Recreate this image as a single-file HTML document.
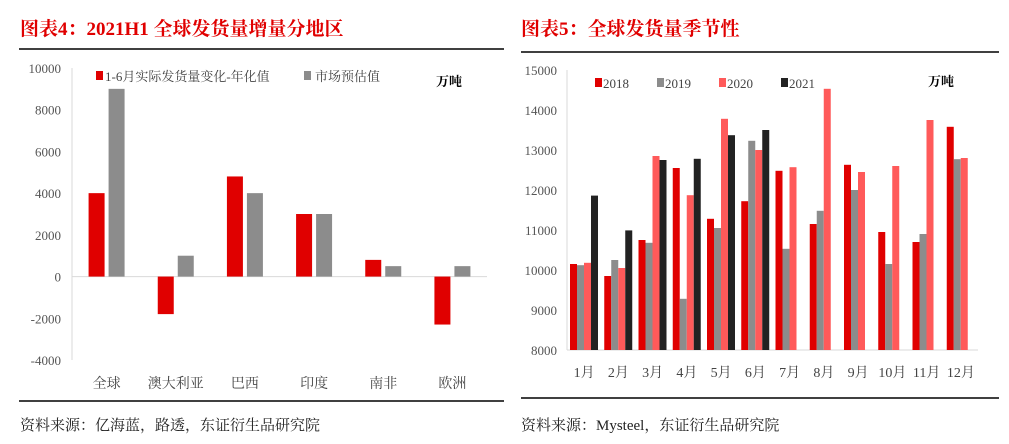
<!DOCTYPE html>
<html><head><meta charset="utf-8"><style>
body{margin:0;background:#fff;width:1009px;height:444px;overflow:hidden;font-family:"Liberation Serif","Noto Serif CJK SC",serif}
svg{position:absolute;left:0;top:0}
</style></head><body>
<svg width="1009" height="444">
<text x="20" y="35" font-size="19" font-weight="bold" fill="#e00000" font-family="Liberation Serif,Noto Serif CJK SC,serif">图表4：2021H1 全球发货量增量分地区</text>
<text x="521" y="35" font-size="19" font-weight="bold" fill="#e00000" font-family="Liberation Serif,Noto Serif CJK SC,serif">图表5：全球发货量季节性</text>
<line x1="19" y1="49" x2="504" y2="49" stroke="#000" stroke-width="1.5"/>
<line x1="521" y1="52" x2="999" y2="52" stroke="#000" stroke-width="1.5"/>
<line x1="19" y1="401" x2="504" y2="401" stroke="#000" stroke-width="1.5"/>
<line x1="521" y1="398" x2="999" y2="398" stroke="#000" stroke-width="1.5"/>
<text x="20" y="430" font-size="15" fill="#222">资料来源：亿海蓝，路透，东证衍生品研究院</text>
<text x="521" y="430" font-size="15" fill="#222">资料来源：Mysteel，东证衍生品研究院</text>
<g id="left"></g>
<g id="right"></g>
</svg>
<script>
const regions=["全球","澳大利亚","巴西","印度","南非","欧洲"];
const actualChange=[4000,-1800,4800,3000,800,-2300];
const marketEst=[9000,1000,4000,3000,500,500];
const leftTicks=[10000,8000,6000,4000,2000,0,-2000,-4000];
const months=["1月","2月","3月","4月","5月","6月","7月","8月","9月","10月","11月","12月"];
const s2018=[10150,9850,10750,12550,11280,11720,12480,11150,12630,10950,10700,13580];
const s2019=[10120,10250,10680,9280,11050,13230,10530,11480,12000,10150,10900,12770];
const s2020=[10180,10050,12850,11870,13780,13000,12570,14530,12450,12600,13750,12800];
const s2021=[11860,10990,12750,12780,13370,13500];
const rightTicks=[15000,14000,13000,12000,11000,10000,9000,8000];
const NS="http://www.w3.org/2000/svg";
function mk(p,t,a,txt){const e=document.createElementNS(NS,t);for(const k in a)e.setAttribute(k,a[k]);if(txt!==undefined)e.textContent=txt;p.appendChild(e);return e;}
// Left chart
(function(){
const g=document.getElementById('left');
const x0=72,x1=487,yTop=68,yBot=360,vMax=10000,vMin=-4000;
const y=v=>yTop+(vMax-v)/(vMax-vMin)*(yBot-yTop);
const cw=(x1-x0)/regions.length;
let e=mk(g,'line',{x1:x0,y1:yTop,x2:x0,y2:yBot,stroke:'#d9d9d9'});


e=mk(g,'line',{x1:x0,y1:y(0),x2:x1,y2:y(0),stroke:'#d9d9d9'});


leftTicks.forEach(t=>{e=mk(g,'text',{x:x0-11,y:y(t)+5,'font-size':13,fill:'#555','text-anchor':'end'},t);

});
regions.forEach((r,i)=>{const cx=x0+cw*(i+0.5);
[[actualChange[i],'#e00000',-20],[marketEst[i],'#8c8c8c',0]].forEach(([v,c,o],j)=>{
e=mk(g,'rect',{x:cx+o+2,y:Math.min(y(v),y(0)),width:16,height:Math.abs(y(v)-y(0)),fill:c});

});
e=mk(g,'text',{x:cx,y:388,'font-size':14,fill:'#444','text-anchor':'middle'},r);

});
e=mk(g,'rect',{x:96,y:71,width:7,height:9,fill:'#e00000'});


e=mk(g,'text',{x:105,y:81,'font-size':13,fill:'#444'},'1-6月实际发货量变化-年化值');


e=mk(g,'rect',{x:304,y:71,width:7,height:9,fill:'#8c8c8c'});


e=mk(g,'text',{x:315,y:81,'font-size':13,fill:'#444'},'市场预估值');


e=mk(g,'text',{x:436,y:86,'font-size':13,fill:'#000','font-weight':'bold'},'万吨');


})();
// Right chart
(function(){
const g=document.getElementById('right');
const x0=567,x1=978,yTop=70,yBot=350,vMax=15000,vMin=8000;
const y=v=>yTop+(vMax-v)/(vMax-vMin)*(yBot-yTop);
const cw=(x1-x0)/months.length;
let e=mk(g,'line',{x1:x0,y1:yTop,x2:x0,y2:yBot,stroke:'#d9d9d9'});


e=mk(g,'line',{x1:x0,y1:yBot,x2:x1,y2:yBot,stroke:'#d9d9d9'});


rightTicks.forEach(t=>{e=mk(g,'text',{x:x0-10,y:y(t)+5,'font-size':13,fill:'#555','text-anchor':'end'},t);

});
const series=[[s2018,'#e00000','2018'],[s2019,'#8c8c8c','2019'],[s2020,'#ff5a5a','2020'],[s2021,'#222','2021']];
months.forEach((m,i)=>{const gx=x0+cw*i+3;
series.forEach(([arr,c,n],j)=>{if(arr[i]===undefined)return;
e=mk(g,'rect',{x:gx+j*7,y:y(arr[i]),width:7,height:yBot-y(arr[i]),fill:c});

});
e=mk(g,'text',{x:x0+cw*(i+0.5),y:377,'font-size':14,fill:'#444','text-anchor':'middle'},m);

});
series.forEach(([a,c,n],j)=>{const lx=595+j*62;
e=mk(g,'rect',{x:lx,y:78,width:7,height:9,fill:c});


e=mk(g,'text',{x:lx+8,y:88,'font-size':13,fill:'#444'},n);

});
e=mk(g,'text',{x:928,y:86,'font-size':13,fill:'#000','font-weight':'bold'},'万吨');


})();
</script>
</body></html>
